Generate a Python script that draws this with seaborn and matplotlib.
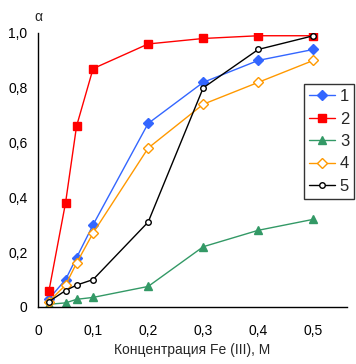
import seaborn as sns
import matplotlib.pyplot as plt
import pandas as pd
from matplotlib.ticker import FuncFormatter

# Концентрация Fe (III), M
conc = [0.02, 0.05, 0.07, 0.1, 0.2, 0.3, 0.4, 0.5]

# степень (alpha) для каждой серии
s1 = [0.03, 0.10, 0.18, 0.30, 0.67, 0.82, 0.90, 0.94]
s2 = [0.06, 0.38, 0.66, 0.87, 0.96, 0.98, 0.99, 0.99]
s3 = [0.01, 0.015, 0.028, 0.035, 0.075, 0.22, 0.28, 0.32]
s4 = [0.02, 0.08, 0.16, 0.27, 0.58, 0.74, 0.82, 0.90]
s5 = [0.02, 0.06, 0.08, 0.10, 0.31, 0.80, 0.94, 0.99]

series_names = ['1', '2', '3', '4', '5']

frames = []
for name, vals in zip(series_names, [s1, s2, s3, s4, s5]):
    frames.append(pd.DataFrame({'conc': conc, 'alpha': vals, 'series': name}))
df = pd.concat(frames, ignore_index=True)

styles = {
    '1': dict(color='#3366FF', marker='D', ms=5, mfc='#3366FF', mec='#3366FF'),
    '2': dict(color='#FF0000', marker='s', ms=6, mfc='#FF0000', mec='#FF0000'),
    '3': dict(color='#339966', marker='^', ms=6, mfc='#339966', mec='#339966'),
    '4': dict(color='#FF9900', marker='D', ms=5, mfc='white', mec='#FF9900'),
    '5': dict(color='black', marker='o', ms=4, mfc='white', mec='black'),
}

sns.set_style('white')
plt.rcParams['font.family'] = ['Liberation Sans', 'DejaVu Sans']

fig = plt.figure(figsize=(3.56, 3.64), dpi=100)
ax = fig.add_axes([38 / 356, 57 / 364, 309 / 356, 274 / 364])

for name in series_names:
    st = styles[name]
    sns.lineplot(data=df[df['series'] == name], x='conc', y='alpha', ax=ax,
                 color=st['color'], marker=st['marker'], markersize=st['ms'],
                 markerfacecolor=st['mfc'], markeredgecolor=st['mec'],
                 markeredgewidth=1, linewidth=1, label=name)

ax.set_xlim(0, 0.561)
ax.set_ylim(0, 1.0)
ax.set_xticks([0, 0.1, 0.2, 0.3, 0.4, 0.5])
ax.set_yticks([0, 0.2, 0.4, 0.6, 0.8, 1.0])

comma = FuncFormatter(lambda v, p: '0' if abs(v) < 1e-9 else f'{v:.1f}'.replace('.', ','))
ax.xaxis.set_major_formatter(comma)
ax.yaxis.set_major_formatter(comma)

for side in ['top', 'right']:
    ax.spines[side].set_visible(False)
for side in ['left', 'bottom']:
    ax.spines[side].set_color('black')
    ax.spines[side].set_linewidth(1)

ax.tick_params(axis='both', which='major', direction='out', length=4, width=1,
               color='black', labelsize=10, labelcolor='black')
ax.tick_params(axis='x', pad=8)

ax.set_xlabel('Концентрация Fe (III), M', fontsize=10, labelpad=4)
ax.set_ylabel('')
fig.text(38 / 356, 1 - 17 / 364, 'α', ha='center', va='center', fontsize=10)

leg = ax.legend(loc='upper left', bbox_to_anchor=(304 / 356, 1 - 84 / 364),
                bbox_transform=fig.transFigure, frameon=True, fancybox=False,
                edgecolor='black', fontsize=12, handlelength=1.55,
                borderpad=0.3, labelspacing=0.45, handletextpad=0.3,
                borderaxespad=0)
leg.get_frame().set_linewidth(1)

fig.savefig('out.png', dpi=100)
